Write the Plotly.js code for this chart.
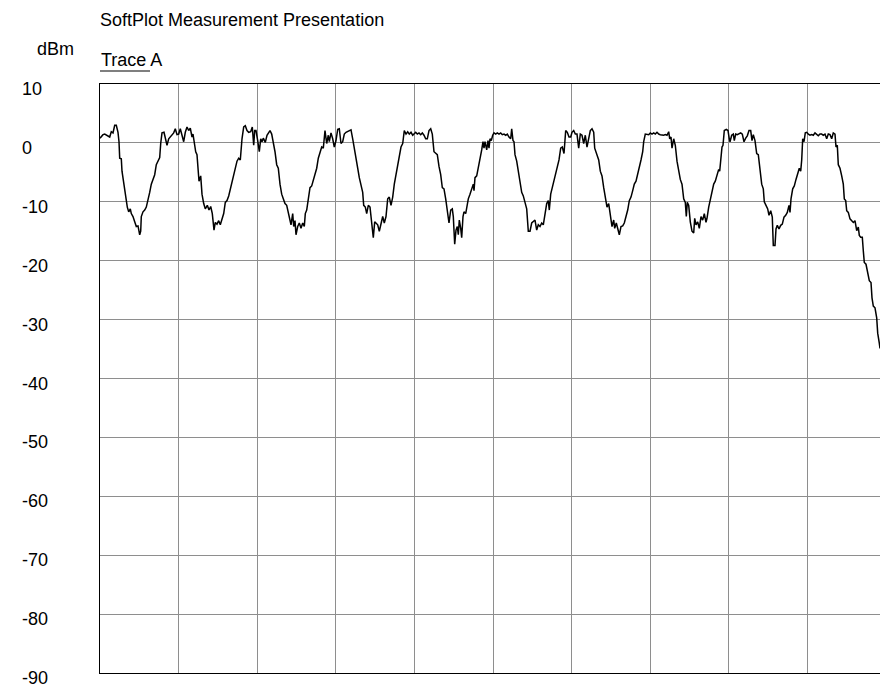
<!DOCTYPE html>
<html>
<head>
<meta charset="utf-8">
<script src="https://cdn.plot.ly/plotly-3.0.1.min.js"></script>
<style>
  html, body { margin: 0; padding: 0; overflow: hidden; background: #fff; }
  #chart { width: 900px; height: 688px; }
</style>
</head>
<body>
<div id="chart"></div>
<script>
// Sweep position (arbitrary units, 78.6 per grid division) and measured level (dBm)
const sweepPos = [
0,3,4.7,7.3,9.7,11.3,13,14.7,16.3,18,19,19.7,21.3,22,24,25.7,27.3,28.7,30.3,31.3,33,34.7,36.3,38,39.7,40.7,41.3,43,44.7,46.3,48,49.7,51.3,53,54.7,56.3,58,59.7,60.7,62,64,65.7,67,68.7,70.3,72,73.7,75.3,77,78.7,80.3,82,83.7,85.3,87,88.7,90.3,92,93,94.7,95.7,97,98,99,100.7,102,103.7,105.3,107.3,109,110.7,112.3,114,115.3,117,118.7,120.3,122,123.7,125.3,127,128.7,130.3,132,133.7,135.3,137,138.7,140.3,142,143.7,145.3,147,148.7,150.7,152.3,153.7,154.7,
156,157.7,159.3,160.7,162,163.3,165.3,167,168.7,170,171.7,173.3,175,176.7,178.3,180,181.7,183.3,185,186.7,188.3,190,191,192.7,193.7,195,196,197.7,199.3,201,202.7,204.3,205.3,206.7,208.3,210,211.7,213.3,215,216.7,218.3,220,221.7,223.3,225,226.7,228.3,229.3,231,232.7,234.3,236,237.7,239.3,241,242.7,244.3,246,247.7,249.3,251,252.7,254.3,256,257.7,259.3,261,262.7,263.7,265.3,266.7,268.3,270,271.7,273.3,274.7,276,277.7,279.3,281,282.7,284.3,286,287.7,289.3,291,292.7,294.3,296,297.7,299.3,301,302.7,304.3,306,307.7,309.3,311,312.7,
314,315.7,317.3,319,320.7,322.3,324,325.7,327.3,329,330.7,332.3,334,335.7,337.3,339,340.7,342.3,344,345.7,346.7,348,349,350.7,352.3,353.3,354.7,356,357.3,358.3,359.3,360.7,361.7,363,364,365.7,367.3,368.3,370,371.7,373.3,374,375,376.7,378.3,380,381.7,383,384,385,386.7,388,389,390,391.3,392.7,394,395.7,397.3,399,400.7,402.3,404,405.7,407.3,409,410.7,411.7,413,414,415,416.7,418.3,420,421.7,423.3,425,426.7,428.3,430,431.7,433.3,435,436.7,438.3,440,441.7,443.3,445,446.7,448.3,449.3,450.7,452.3,454,455.7,457.3,459,460.7,462.3,464,465.7,467.3,469,470.7,
472,473.7,475.3,477,478.7,480.3,482,483.7,485.3,487,488.7,490.3,492,493.7,494.7,496,497.7,498.7,500.3,502,503.7,505.3,507,508.7,509.7,511,512,513.7,514.7,516.3,518,519.3,521,522.7,524.3,526,527.7,529.3,531,532.7,534.3,536,537.7,539.3,541,542.7,543.7,545.3,547,548.7,550.3,552,553.7,555.3,557,558.7,560.3,562,563.7,565.3,567,568.7,569.7,571,572,573.7,575.3,577,578.7,580.3,582,583.7,585.3,586.3,587.3,588.7,590.3,592,593.7,594.7,596,597.7,599.3,601,602.7,604.3,606,607,608.7,610.3,612,613.7,615.3,617,618.7,619.7,621,622,623,624.3,626.3,628,629.3,
630,631.7,633.3,634.3,635.7,637.3,639,640.7,642.3,644,645.7,647.3,649,650.7,652,653.3,655,656.7,658.3,660,661.7,663.3,664.3,666,667.7,669,670.7,672.3,673.3,675,676,677.3,679,680.7,682.3,684,685.7,687.3,689,690,691,692.7,694.3,696,697.7,699.3,700.7,701.7,702.7,704,705.3,706.7,708.3,710,711.7,713.3,715,716.7,718.3,720,721.7,723.3,725,726.7,728.3,730,731.7,733.3,735,736,737.3,738.3,740,741.7,743.3,744.3,745.7,746.7,748.3,750,751.7,753.3,755,756.7,758.3,759.3,760.7,762.3,763.3,764.3,766,767.7,769.3,771,772,773.3,775,776.7,777.7,779.3,780
];
const levelDbm = [
0.8,1.4,1.5,1.2,1.0,1.9,1.7,3.0,3.0,1.8,0.2,-2.6,-2.7,-4.8,-7.0,-9.5,-10.9,-11.7,-11.2,-12.0,-12.5,-13.4,-14.2,-14.1,-15.6,-15.0,-12.5,-11.7,-11.4,-10.9,-9.8,-8.4,-7.0,-6.2,-5.4,-3.7,-3.1,-2.5,-0.1,1.7,1.8,0.7,-0.4,0.7,1.0,1.5,1.7,2.4,1.4,1.5,2.4,1.3,0.2,1.8,2.7,2.1,2.5,1.0,1.5,-0.4,-1.5,-2.0,-4.3,-6.5,-5.6,-8.7,-10.3,-11.2,-10.6,-11.4,-10.8,-12.0,-14.8,-13.5,-13.8,-13.2,-13.9,-13.1,-12.0,-10.1,-9.8,-9.0,-7.8,-7.0,-5.6,-4.3,-3.1,-2.6,-2.9,0.7,2.7,2.9,2.1,1.8,1.9,2.7,-0.4,2.1,
2.1,0.4,-1.5,0.7,0.2,0.8,0.1,1.3,1.8,2.1,1.5,0.2,-1.5,-3.7,-4.3,-7.0,-8.7,-9.5,-10.3,-10.6,-12.0,-13.1,-13.9,-12.0,-14.2,-13.2,-15.6,-14.2,-13.6,-14.5,-13.6,-14.2,-12.0,-11.4,-9.8,-7.6,-7.3,-6.2,-5.4,-4.3,-2.6,-1.8,-0.7,-0.9,2.1,-0.1,1.3,0.2,1.7,0.7,-0.7,0.4,2.3,2.4,-0.1,0.2,1.5,1.8,1.9,2.1,2.2,0.7,-0.7,-2.6,-4.3,-5.9,-7.0,-8.4,-10.6,-10.9,-12.0,-10.6,-10.9,-13.1,-16.1,-13.4,-13.6,-13.9,-15.0,-13.6,-12.5,-13.6,-12.5,-9.5,-9.2,-10.6,-9.2,-7.0,-5.4,-4.0,-2.0,-0.7,-0.1,2.1,1.5,1.9,1.5,1.8,1.3,
1.5,1.8,1.5,1.7,1.4,1.7,1.3,0.7,0.7,2.1,2.4,1.5,-1.5,-1.8,-2.0,-4.0,-5.4,-7.6,-7.8,-9.5,-10.9,-12.5,-13.6,-11.4,-11.2,-12.5,-17.2,-14.8,-14.2,-15.6,-13.1,-14.5,-16.1,-12.5,-11.7,-12.0,-10.6,-9.5,-8.7,-7.8,-7.0,-8.1,-5.9,-5.6,-4.3,-2.9,-1.2,0.2,-0.9,0.2,-1.2,0.4,-0.9,0.7,0.4,1.3,1.7,1.5,1.7,1.5,1.7,1.4,1.5,1.3,1.5,1.0,0.7,2.4,0.4,0.2,-2.0,-3.1,-4.8,-6.7,-8.4,-9.0,-10.3,-11.2,-15.0,-15.0,-13.6,-13.4,-13.1,-14.8,-13.9,-14.2,-13.6,-13.9,-12.3,-10.3,-9.8,-11.4,-8.7,-7.6,-6.2,-5.1,-4.0,-2.9,-0.9,-0.7,-1.8,2.1,1.8,1.0,1.0,
1.8,2.1,1.5,1.5,-0.9,1.5,1.3,-0.1,1.3,-0.7,1.0,2.1,2.4,1.8,-0.9,-1.5,-2.6,-2.9,-4.8,-5.6,-7.6,-9.5,-10.9,-10.3,-11.7,-12.5,-14.2,-13.1,-14.5,-13.6,-14.8,-15.6,-14.2,-14.1,-13.6,-12.5,-11.4,-9.8,-9.2,-8.1,-7.0,-6.5,-5.4,-4.0,-2.9,-1.5,0.2,1.5,1.5,1.4,1.7,1.5,1.7,1.5,1.8,1.5,1.4,1.3,1.3,1.4,1.3,1.9,0.7,1.0,-0.9,0.7,-0.4,-3.1,-4.8,-6.2,-7.0,-9.5,-10.1,-12.5,-10.1,-10.6,-13.4,-15.0,-15.3,-12.8,-13.9,-13.4,-14.5,-12.5,-13.1,-12.0,-13.5,-12.8,-10.9,-9.5,-8.4,-7.0,-6.5,-5.4,-4.5,-4.8,-2.3,-0.7,-0.4,2.1,2.3,2.1,0.7,
0.2,1.3,1.5,0.4,1.5,1.4,1.5,1.7,1.5,0.2,0.8,1.2,2.1,2.1,0.4,1.4,0.4,-1.8,-2.0,-4.5,-7.0,-7.8,-10.0,-10.6,-11.2,-12.3,-11.5,-12.6,-17.4,-17.4,-14.6,-14.0,-14.6,-14.0,-13.8,-12.6,-12.3,-11.8,-10.6,-11.8,-9.5,-7.8,-7.3,-6.2,-5.1,-4.3,-4.8,-2.9,0.7,0.2,1.7,1.8,1.5,1.3,1.4,1.3,1.7,1.5,1.2,1.5,1.5,1.3,1.5,0.7,1.5,1.4,0.7,1.7,1.5,-0.7,-0.4,-3.7,-4.3,-5.6,-7.0,-9.5,-9.8,-11.5,-11.8,-12.9,-13.2,-13.5,-13.2,-14.9,-14.3,-15.7,-16.0,-16.0,-18.3,-20.3,-20.6,-22.3,-23.4,-23.7,-26.3,-27.7,-28.0,-29.7,-32.3,-34.0,-34.9
];
const yTickVals = [10, 0, -10, -20, -30, -40, -50, -60, -70, -80, -90];
const yTickText = ['10', '0', '-10', '-20', '-30', '-40', '-50', '-60', '-70', '-80', '-90'];
const chartTitle = 'SoftPlot Measurement Presentation';
const traceName = 'Trace A';
const unitLabel = 'dBm';

const FONT = 'Liberation Sans, Arial, Helvetica, sans-serif';
const plotW = 786, plotH = 589;

const annotations = yTickVals.map((v, i) => ({
  text: yTickText[i], xref: 'paper', yref: 'y', x: (20 - 100) / plotW, y: v,
  xanchor: 'left', yanchor: 'middle', yshift: -5, showarrow: false,
  font: { family: FONT, size: 18, color: '#000' }
}));
annotations.push({
  text: unitLabel, xref: 'paper', yref: 'paper', x: (35 - 100) / plotW, y: (673 - 49) / plotH,
  xanchor: 'left', yanchor: 'middle', showarrow: false,
  font: { family: FONT, size: 18, color: '#000' }
});
annotations.push({
  text: traceName, xref: 'paper', yref: 'paper', x: -1 / plotW, y: (673 - 60) / plotH,
  xanchor: 'left', yanchor: 'middle', showarrow: false,
  font: { family: FONT, size: 18, color: '#000' }
});

const data = [{
  x: sweepPos, y: levelDbm, type: 'scatter', mode: 'lines', name: traceName,
  line: { color: '#000', width: 1.5 }, hoverinfo: 'skip'
}];

const layout = {
  width: 900, height: 688,
  margin: { l: 100, r: 14, t: 84, b: 15, pad: 0 },
  paper_bgcolor: '#fff', plot_bgcolor: '#fff',
  showlegend: false,
  font: { family: FONT, size: 18, color: '#000' },
  title: {
    text: chartTitle, xref: 'paper', x: 0, xanchor: 'left',
    yref: 'container', y: 1 - 20 / 688, yanchor: 'middle',
    font: { family: FONT, size: 18, color: '#000' }
  },
  xaxis: {
    range: [0, 786], tick0: 0, dtick: 78.6, showticklabels: false, ticks: '',
    showgrid: true, gridcolor: '#8e8e8e', gridwidth: 1, zeroline: false,
    showline: true, linecolor: '#000', linewidth: 1.2, mirror: true, fixedrange: true
  },
  yaxis: {
    range: [-90, 10], tick0: 0, dtick: 10, showticklabels: false, ticks: '',
    showgrid: true, gridcolor: '#8e8e8e', gridwidth: 1, zeroline: false,
    showline: true, linecolor: '#000', linewidth: 1.2, mirror: true, fixedrange: true
  },
  annotations: annotations,
  shapes: [{
    type: 'line', xref: 'paper', yref: 'paper',
    x0: 0, x1: 50 / plotW, y0: (673 - 71) / plotH, y1: (673 - 71) / plotH,
    line: { color: '#555', width: 1.5 }
  }]
};

Plotly.newPlot('chart', data, layout, { staticPlot: true, displayModeBar: false });
</script>
</body>
</html>
